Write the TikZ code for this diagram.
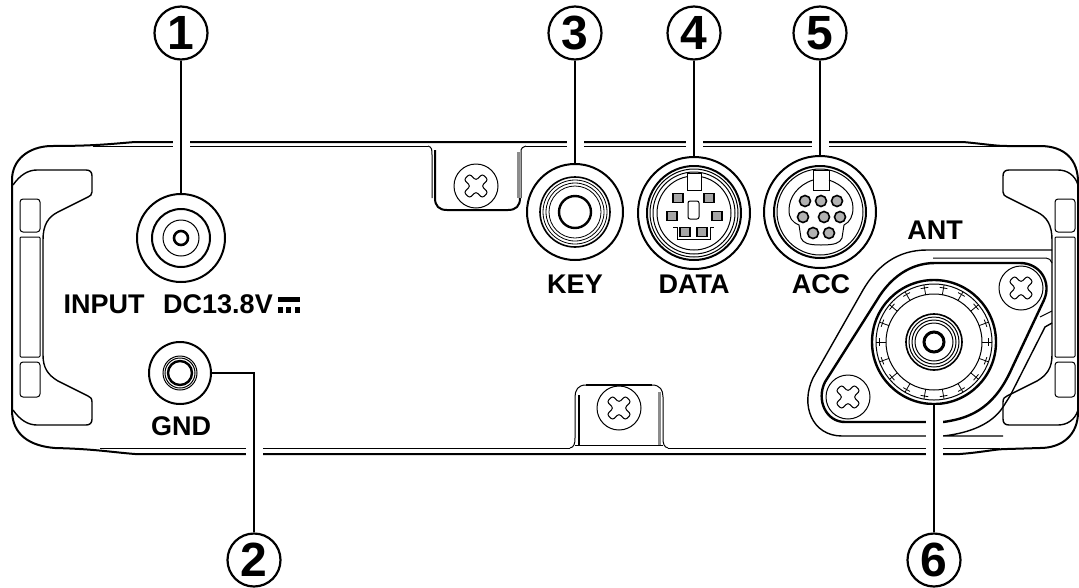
\documentclass[tikz,border=0pt]{standalone}
\usepackage{fontspec}
\setmainfont{Liberation Sans}
\usepackage{tikz}
\tikzset{
  mainline/.style={line width=2pt},
  fineline/.style={line width=1pt},
  greyline/.style={line width=3pt, black!45},
  jack/.style={circle, draw, line width=2pt, inner sep=0pt},
  callout/.style={line width=2pt, preaction={draw=white, line width=17pt}},
  numcircle/.style={circle, draw, line width=2.2pt, inner sep=0pt, minimum size=53pt, font=\bfseries\fontsize{48}{48}\selectfont},
  lbl/.style={anchor=base, inner sep=0pt, font=\bfseries\fontsize{27}{27}\selectfont},
  screwhead/.style={circle, draw, fineline, inner sep=0pt, minimum size=44pt}
}
\newcommand{\rings}[2]{
\foreach \rr/\ww in {#2} {
  \draw[line width=\ww pt] (#1.center) circle (\rr);
}
}
\newcommand{\screw}[2]{
\node[screwhead] (#1) at (#2) {};
\draw[fineline, shift={(#1.center)}, rotate=45, rounded corners=2.5pt]
  (-4,-13) -- (4,-13) -- (4,-4) -- (13,-4) -- (13,4) -- (4,4) -- (4,13) -- (-4,13)
  -- (-4,4) -- (-13,4) -- (-13,-4) -- (-4,-4) -- cycle;
}
\begin{document}
\begin{tikzpicture}[x=1pt, y=-1pt]
\useasboundingbox (0,0) rectangle (1079,587);
% case
\draw[mainline] (135,142) -- (963,142) .. controls (985,144) and (995,146) .. (1007,146)
  -- (1040,146) .. controls (1065,146) and (1078,160) .. (1078,182) -- (1078,412)
  .. controls (1078,435) and (1062,448) .. (1040,448) -- (1007,449)
  .. controls (995,449) and (985,452) .. (960,454) -- (135,454)
  .. controls (110,452) and (95,449) .. (55,448)
  .. controls (30,446) and (12,435) .. (12,410) -- (12,180)
  .. controls (12,160) and (28,147) .. (50,146)
  .. controls (95,146) and (110,144) .. (135,142);
\draw[fineline] (93,146) -- (428,146) (526,146) -- (1000,146);
\draw[fineline] (100,448) -- (570,448) (668,448) -- (1000,448);
\draw[fineline] (575,445) -- (663,445);
% handles
\foreach \dx/\sx/\ex in {0/1/13, 1095/-1/17} {
\begin{scope}[xshift=\dx pt, xscale=\sx]
\draw[fineline, line width=1.4pt] (\ex,185) .. controls (20,175) and (28,170) .. (37,170) -- (86,170)
  .. controls (90,170) and (92,172) .. (92,176) -- (92,192) .. controls (92,195) and (90,196) .. (88,197)
  -- (58,212) .. controls (48,217) and (43,225) .. (43,240) -- (43,355)
  .. controls (43,368) and (48,375) .. (58,381) -- (88,396) .. controls (90,397) and (92,398) .. (92,402)
  -- (92,419) .. controls (92,423) and (90,425) .. (86,425) -- (37,425)
  .. controls (28,425) and (20,420) .. (\ex,410);
\draw[fineline, rounded corners=3pt] (20,199) rectangle (40,232);
\draw[fineline, rounded corners=1pt] (20,237) rectangle (40,357);
\draw[fineline, rounded corners=3pt] (20,362) rectangle (40,397);
\end{scope}
}
% brackets
\draw[fineline] (428,146) .. controls (432,147) and (432,150) .. (432,155) -- (432,198);
\draw[mainline] (435,150) -- (435,198) .. controls (435,206) and (439,210) .. (447,210) -- (508,210)
  .. controls (516,210) and (520,206) .. (520,198);
\draw[greyline] (518,152) -- (518,198);
\draw[fineline] (521,150) -- (521,198) (521,150) .. controls (521,148) and (523,147) .. (526,146);
\draw[fineline] (570,448) .. controls (574,447) and (575,444) .. (575,438) -- (575,397)
  .. controls (575,390) and (578,385) .. (586,385);
\draw[mainline] (586,385) -- (652,385);
\draw[fineline] (652,385) .. controls (660,385) and (663,390) .. (663,397) -- (663,438)
  .. controls (663,444) and (664,447) .. (668,448);
\draw[mainline] (579,395) -- (579,445);
\draw[greyline] (659,392) -- (659,445);
\screw{screwa}{476,186}
\screw{screwb}{619,408}
% antenna plate
\draw[fineline, line width=1.4pt] (1052,250) -- (927,250) .. controls (897,250) and (877,266) .. (863,290) -- (813,378)
  .. controls (800,405) and (812,436) .. (842,436) -- (1003,436) (943,436) .. controls (970,433) and (992,424) .. (1003,407)
  -- (1010,396) -- (1045,327) -- (1052,323);
\draw[fineline] (933,258) -- (1046,258) .. controls (1049,258) and (1051,260) .. (1052,263);
\draw[line width=2.4pt] (935,263) -- (1020,263) .. controls (1040,263) and (1052,282) .. (1044,300)
  -- (1012,368) .. controls (996,404) and (975,418) .. (943,422) -- (845,422)
  .. controls (826,422) and (816,400) .. (825,382) -- (877,300) .. controls (890,278) and (910,263) .. (935,263);
\draw[fineline] (1040,317) -- (1052,311);
\screw{screwc}{1021,288}
\screw{screwd}{848,397}
% jacks
\node[jack, minimum size=88pt] (dcin) at (181,238) {};
\rings{dcin}{29/2, 18/1, 7/2.6}
\node[jack, minimum size=62pt] (gndjack) at (180,373) {};
\rings{gndjack}{17/1, 15/1, 12/2.4}
\node[jack, minimum size=96pt] (keyjack) at (575,212) {};
\rings{keyjack}{35/1.6, 32/0.8, 29/0.8, 26/0.8, 16/2.4}
\node[jack, minimum size=112pt] (datajack) at (694,213) {};
\rings{datajack}{47/2, 44/1, 41/1, 37/1}
\node[jack, minimum size=112pt] (accjack) at (820,212) {};
\rings{accjack}{46/2, 43/1}
\node[jack, minimum size=124pt, line width=2.4pt] (antjack) at (934,342) {};
\rings{antjack}{58/1, 48/1, 28/1.6, 25/1, 22/1, 19/1, 10/3}
\foreach \a in {0,20,...,340} {
  \draw[line width=0.8pt, shift={(antjack.center)}] (\a:48) -- (\a:58);
  \draw[line width=0.8pt, shift={(antjack.center)}] (\a-4:55) -- (\a+4:55);
}
% data socket
\filldraw[fill=white, fineline] (687,173) rectangle (701,190);
\draw[fineline, rounded corners=2pt] (688,201) rectangle (699,219);
\foreach \px/\py in {678/198, 709/198, 672/216, 717/216, 685/232, 702/232} {
  \filldraw[line width=1.6pt, fill=black!35] (\px-5,\py-4.5) rectangle (\px+5,\py+4.5);
}
\draw[fineline] (673,227) -- (677,227) -- (677,239) -- (710,239) -- (710,227) -- (714,227);
% acc socket
\filldraw[fill=white, fineline] (813,170) rectangle (829,190);
\foreach \px/\py in {805/201, 821/201, 837/201, 803/217, 824/217, 840/217, 813/233, 829/233} {
  \filldraw[line width=1.6pt, fill=black!30] (\px,\py) circle (5.5);
}
\draw[fineline] (813,180) .. controls (798,185) and (789,197) .. (789,210) .. controls (789,218) and (792,222) .. (799,225)
  -- (801,238) .. controls (803,243) and (808,245) .. (821,245) .. controls (835,245) and (840,243) .. (842,238)
  -- (844,225) .. controls (850,222) and (853,216) .. (853,208) .. controls (853,195) and (843,185) .. (829,180);
% numbers
\node[numcircle] (num1) at (181,33) {1};
\node[numcircle] (num2) at (254,560) {2};
\node[numcircle] (num3) at (575,33) {3};
\node[numcircle] (num4) at (694,33) {4};
\node[numcircle] (num5) at (820,33) {5};
\node[numcircle] (num6) at (934,560) {6};
\draw[callout] (num1) -- (dcin);
\draw[callout] (gndjack) -| (num2);
\draw[callout] (num3) -- (keyjack);
\draw[callout] (num4) -- (datajack);
\draw[callout] (num5) -- (accjack);
\draw[callout] (antjack) -- (num6);
% labels
\node[lbl] (inputlbl) at (104,313) {INPUT};
\node[lbl] (dclbl) at (218,313) {DC13.8V};
\fill (278,297) rectangle (300,302);
\foreach \dd in {278,286,295} {
  \fill (\dd,307) rectangle (\dd+5,313);
}
\node[lbl] (gndlbl) at (181,435) {GND};
\node[lbl] (keylbl) at (575,293) {KEY};
\node[lbl] (datalbl) at (694,293) {DATA};
\node[lbl] (acclbl) at (821,293) {ACC};
\node[lbl] (antlbl) at (935,239) {ANT};
\end{tikzpicture}
\end{document}
